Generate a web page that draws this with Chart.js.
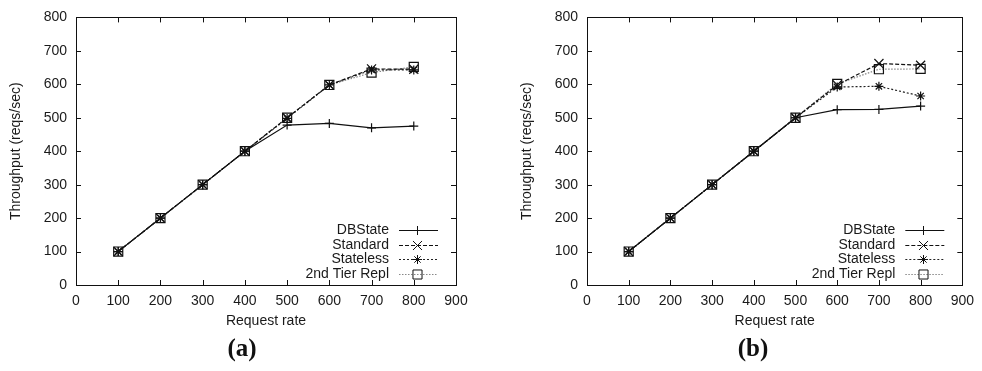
<!DOCTYPE html>
<html>
<head>
<meta charset="utf-8">
<script src="https://cdn.jsdelivr.net/npm/chart.js@4/dist/chart.umd.min.js"></script>
<style>
  body { margin: 0; background: #fff; width: 982px; height: 371px; overflow: hidden; position: relative; }
  .box { position: absolute; top: 0; height: 340px; }
  .cap { position: absolute; top: 334px; font: bold 25px "Liberation Serif", serif; color: #111; transform: translateX(-50%); }
</style>
</head>
<body>
<div class="box" style="left:0;width:491px"><canvas id="chartA"></canvas></div>
<div class="box" style="left:491px;width:491px"><canvas id="chartB"></canvas></div>
<div class="cap" style="left:242px">(a)</div>
<div class="cap" style="left:753px">(b)</div>
<script>
// --- data ---
const rates = [100, 200, 300, 400, 500, 600, 700, 800];
const seriesNames = ['DBState', 'Standard', 'Stateless', '2nd Tier Repl'];

const aDBState   = [100, 200, 300, 400, 478, 483, 470, 475];
const aStandard  = [100, 200, 300, 400, 500, 598, 646, 645];
const aStateless = [100, 200, 300, 400, 498, 598, 643, 643];
const aTier      = [100, 200, 300, 400, 500, 598, 635, 652];

const bDBState   = [100, 200, 300, 400, 500, 524, 525, 535];
const bStandard  = [100, 200, 300, 400, 500, 598, 662, 657];
const bStateless = [100, 200, 300, 400, 500, 592, 594, 565];
const bTier      = [100, 200, 300, 400, 500, 601, 645, 646];

const xTicks = [0, 100, 200, 300, 400, 500, 600, 700, 800, 900];
const yTicks = [0, 100, 200, 300, 400, 500, 600, 700, 800];

// line look per series (gnuplot style)
const looks = [
  { color: '#111', dash: [], point: 'cross', r: 4.5 },
  { color: '#111', dash: [4, 2], point: 'crossRot', r: 6.4 },
  { color: '#222', dash: [2, 2], point: 'star', r: 4.5 },
  { color: '#888', dash: [1.5, 1.5], point: 'rect', r: 6.4 }
];

const FONT = { family: '"Liberation Sans", Arial, sans-serif', size: 14 };
const TXT = '#1a1a1a';

// frame, inward ticks and in-plot legend
const gnuplotFrame = {
  id: 'gnuplotFrame',
  afterDraw(chart) {
    const { ctx, chartArea: a, scales } = chart;
    ctx.save();
    ctx.strokeStyle = '#111';
    ctx.lineWidth = 1;
    ctx.setLineDash([]);
    ctx.strokeRect(Math.round(a.left) + 0.5, Math.round(a.top) + 0.5,
                   Math.round(a.right - a.left), Math.round(a.bottom - a.top));
    ctx.beginPath();
    xTicks.forEach(v => {
      const x = Math.round(scales.x.getPixelForValue(v)) + 0.5;
      ctx.moveTo(x, a.bottom); ctx.lineTo(x, a.bottom - 5);
      ctx.moveTo(x, a.top); ctx.lineTo(x, a.top + 5);
    });
    yTicks.forEach(v => {
      const y = Math.round(scales.y.getPixelForValue(v)) + 0.5;
      ctx.moveTo(a.left, y); ctx.lineTo(a.left + 5, y);
      ctx.moveTo(a.right, y); ctx.lineTo(a.right - 5, y);
    });
    ctx.stroke();

    // legend
    const rowsFromBottom = [55, 40.5, 26, 11];
    ctx.font = FONT.size + 'px ' + FONT.family;
    ctx.textAlign = 'right';
    ctx.textBaseline = 'middle';
    chart.data.datasets.forEach((ds, i) => {
      const y = Math.round(a.bottom - rowsFromBottom[i]) + 0.5;
      const look = looks[i];
      ctx.fillStyle = TXT;
      ctx.fillText(ds.label, a.right - 67, y);
      ctx.strokeStyle = look.color;
      ctx.setLineDash(look.dash);
      ctx.beginPath();
      ctx.moveTo(a.right - 57, y); ctx.lineTo(a.right - 18, y);
      ctx.stroke();
      ctx.setLineDash([]);
      ctx.strokeStyle = '#111';
      ctx.fillStyle = 'rgba(0,0,0,0)';
      Chart.helpers.drawPoint(ctx, { pointStyle: look.point, radius: look.r, borderWidth: 1, rotation: 0 },
                              Math.round(a.right - 39) + 0.5, y);
    });
    ctx.restore();
  }
};

function makeChart(id, series, padLeft, padRight) {
  const datasets = series.map((vals, i) => ({
    label: seriesNames[i],
    data: rates.map((r, k) => ({ x: r, y: vals[k] })),
    borderColor: looks[i].color,
    borderDash: looks[i].dash,
    borderWidth: 1.2,
    pointStyle: looks[i].point,
    pointRadius: looks[i].r,
    pointBorderColor: '#111',
    pointBackgroundColor: 'rgba(0,0,0,0)',
    pointBorderWidth: 1.2,
    tension: 0
  }));
  return new Chart(document.getElementById(id), {
    type: 'line',
    data: { datasets },
    options: {
      responsive: true, maintainAspectRatio: false, animation: false,
      layout: { padding: { left: padLeft, right: padRight, top: 11, bottom: 0 } },
      plugins: { legend: { display: false }, tooltip: { enabled: false } },
      scales: {
        x: {
          type: 'linear', min: 0, max: 900,
          afterFit: s => { s.height = 55; },
          afterBuildTicks: s => { s.ticks = xTicks.map(v => ({ value: v })); },
          grid: { display: false, drawTicks: false },
          border: { display: false },
          ticks: { color: TXT, font: FONT, padding: 8, maxRotation: 0, autoSkip: false },
          title: { display: true, text: 'Request rate', color: TXT, font: FONT, padding: { top: 0, bottom: 10 } }
        },
        y: {
          min: 0, max: 800,
          afterFit: s => { s.width = 76; },
          afterBuildTicks: s => { s.ticks = yTicks.map(v => ({ value: v })); },
          grid: { display: false, drawTicks: false },
          border: { display: false },
          ticks: { color: TXT, font: FONT, padding: 9, autoSkip: false },
          title: { display: true, text: 'Throughput (reqs/sec)', color: TXT, font: FONT, padding: { top: 8, bottom: 0 } }
        }
      }
    },
    plugins: [gnuplotFrame]
  });
}

makeChart('chartA', [aDBState, aStandard, aStateless, aTier], 0, 35);
makeChart('chartB', [bDBState, bStandard, bStateless, bTier], 20, 14);
</script>
</body>
</html>
